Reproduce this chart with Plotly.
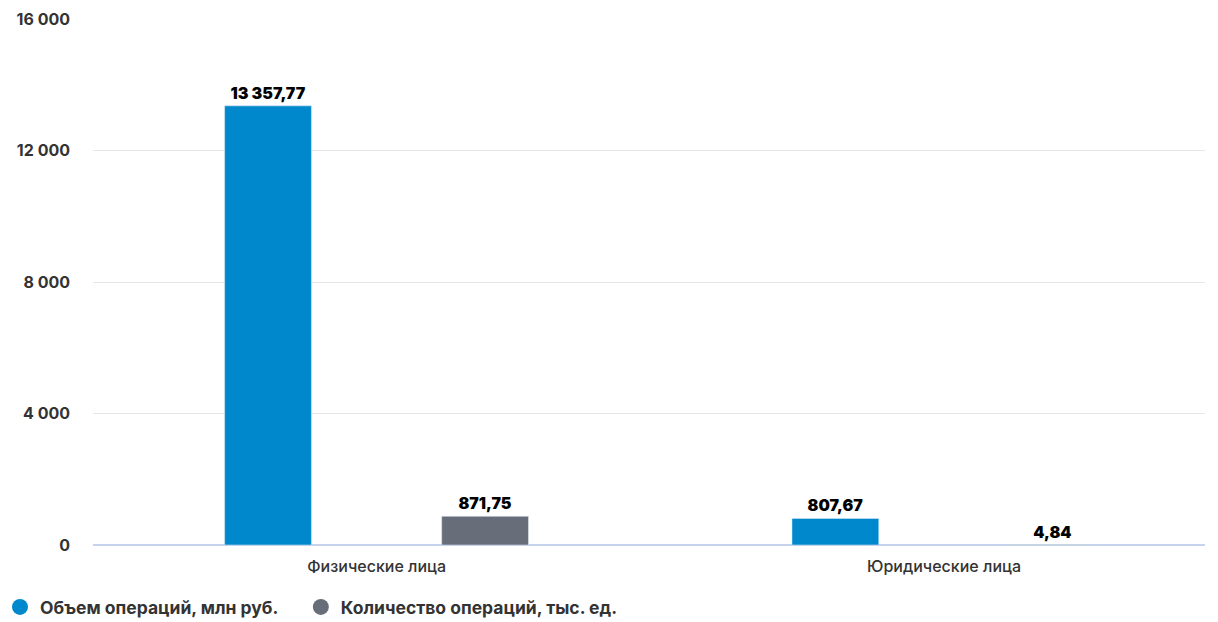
import plotly.graph_objects as go

categories = ["Физические лица", "Юридические лица"]
volume = [13357.77, 807.67]        # Объем операций, млн руб.
count = [871.75, 4.84]             # Количество операций, тыс. ед.
series_names = ["Объем операций, млн руб.", "Количество операций, тыс. ед."]
y_ticks = [0, 4000, 8000, 12000, 16000]
y_ticktext = ["0", "4 000", "8 000", "12 000", "16 000"]

blue = "#0088CC"
gray = "#676E7A"

fig = go.Figure()
label_font = dict(family="Inter", size=16, color="#000000", weight=900)
fig.add_trace(go.Bar(x=[0, 1], y=volume, marker_color=blue, width=0.153, offset=-0.268,
                     texttemplate="%{y:,.2f}", textposition="outside", textfont=label_font,
                     cliponaxis=False, showlegend=False))
fig.add_trace(go.Bar(x=[0, 1], y=count, marker_color=gray, width=0.153, offset=0.1146,
                     texttemplate="%{y:,.2f}", textposition="outside", textfont=label_font,
                     cliponaxis=False, showlegend=False))
for name, col, lg in zip(series_names, [blue, gray], ["legend", "legend2"]):
    fig.add_trace(go.Scatter(x=[None], y=[None], mode="markers", name=name, legend=lg,
                             marker=dict(symbol="circle", size=18, color=col)))

legend_common = dict(orientation="h", xref="container", yref="container", y=0.024,
                     xanchor="left", yanchor="middle",
                     font=dict(family="Inter", size=17.5, color="#333333", weight=700),
                     itemwidth=30, bgcolor="rgba(0,0,0,0)")

fig.update_layout(
    width=1218, height=622,
    margin=dict(l=93, r=13, t=19, b=77, autoexpand=False),
    paper_bgcolor="white", plot_bgcolor="white",
    separators=", ",
    barmode="overlay",
    font=dict(family="Inter", color="#333333"),
    legend=dict(x=0.0, **legend_common),
    legend2=dict(x=0.247, **legend_common),
    xaxis=dict(range=[-0.5, 1.46], tickvals=[0, 1], ticktext=categories,
               showgrid=False, zeroline=False, showline=False, ticks="",
               automargin=False, ticklabelstandoff=10,
               tickfont=dict(family="Inter", size=16, color="#333333", weight=500)),
    yaxis=dict(range=[0, 16000], tickvals=y_ticks, ticktext=y_ticktext,
               showgrid=True, gridcolor="#E6E6E6", gridwidth=1,
               zeroline=True, zerolinecolor="#C5D3EC", zerolinewidth=2,
               ticks="", ticklabelstandoff=22, automargin=False,
               tickfont=dict(family="Inter", size=16, color="#333333", weight=700)),
)

fig.write_html("out.html", config={"displayModeBar": False},
               post_script="document.body.style.margin='0';")
